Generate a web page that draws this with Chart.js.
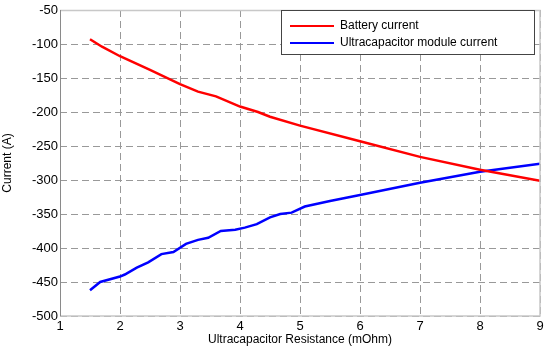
<!DOCTYPE html>
<html>
<head>
<meta charset="utf-8">
<script src="https://cdn.jsdelivr.net/npm/chart.js@4/dist/chart.umd.min.js"></script>
<style>
html,body{margin:0;padding:0;background:#fff;}
#wrap{width:550px;height:351px;position:relative;}
</style>
</head>
<body>
<div id="wrap"><canvas id="c" width="550" height="351"></canvas></div>
<script>
const batteryR = [1.5, 1.7, 2, 2.5, 3, 3.3, 3.6, 4, 4.3, 4.5, 5, 6, 7, 8, 9];
const batteryI = [-93, -104, -118, -138, -159, -170, -177, -192, -200, -207, -220, -243, -266, -285, -301];
const ucR = [1.5, 1.67, 2, 2.08, 2.28, 2.47, 2.69, 2.89, 3.1, 3.3, 3.47, 3.68, 3.92, 4.08, 4.28, 4.5, 4.67, 4.86, 5.08, 5.5, 6, 7, 8, 9];
const ucI = [-462, -450, -442, -439, -429, -421, -409, -406, -394, -388, -385, -375, -373, -370, -365, -355, -350, -348, -339, -331, -322, -304, -288, -276];
const seriesNames = ["Battery current", "Ultracapacitor module current"];
const xTitle = "Ultracapacitor Resistance (mOhm)";
const yTitle = "Current (A)";

const toPts = (xs, ys) => xs.map((x, i) => ({x: x, y: ys[i]}));
const FONT = "'Liberation Sans', Arial, sans-serif";

const framePlugin = {
  id: 'frame',
  afterDraw(chart) {
    const {ctx, chartArea: a} = chart;
    ctx.save();
    ctx.strokeStyle = '#c8c8c8';
    ctx.lineWidth = 1.5;
    ctx.beginPath();
    ctx.moveTo(a.left, a.top + 0.5);
    ctx.lineTo(a.right, a.top + 0.5);
    ctx.lineTo(a.right, a.bottom);
    ctx.lineTo(a.left, a.bottom);
    ctx.stroke();
    ctx.strokeStyle = '#8a8a8a';
    ctx.lineWidth = 1;
    ctx.beginPath();
    ctx.moveTo(a.left + 0.5, a.top);
    ctx.lineTo(a.left + 0.5, a.bottom);
    ctx.stroke();
    // legend box
    const lx = 281, ly = 10, lw = 253, lh = 44;
    ctx.fillStyle = '#fff';
    ctx.fillRect(lx, ly, lw, lh);
    ctx.strokeStyle = '#444';
    ctx.lineWidth = 1;
    ctx.strokeRect(lx + 0.5, ly + 0.5, lw, lh);
    ctx.font = '12px ' + FONT;
    ctx.textBaseline = 'middle';
    chart.data.datasets.forEach((ds, i) => {
      const y = ly + 16 + i * 17;
      ctx.strokeStyle = ds.borderColor;
      ctx.lineWidth = 2;
      ctx.beginPath();
      ctx.moveTo(290, y);
      ctx.lineTo(334, y);
      ctx.stroke();
      ctx.fillStyle = '#000';
      ctx.fillText(ds.label, 340, y);
    });
    ctx.restore();
  }
};

new Chart(document.getElementById('c'), {
  type: 'line',
  data: {
    datasets: [
      {label: seriesNames[0], data: toPts(batteryR, batteryI), borderColor: '#ff0000', borderWidth: 2.5, pointRadius: 0, tension: 0, fill: false},
      {label: seriesNames[1], data: toPts(ucR, ucI), borderColor: '#0000ff', borderWidth: 2.5, pointRadius: 0, tension: 0, fill: false}
    ]
  },
  options: {
    responsive: false,
    animation: false,
    layout: {padding: {top: 10, right: 10, left: 0, bottom: 4}},
    plugins: {legend: {display: false}, tooltip: {enabled: false}},
    scales: {
      x: {
        type: 'linear', min: 1, max: 9,
        ticks: {stepSize: 1, color: '#000', font: {family: FONT, size: 13}, padding: 3, maxRotation: 0},
        grid: {color: '#999', lineWidth: 1, tickLength: 0, drawTicks: false},
        border: {display: false, dash: [7, 4]},
        title: {display: true, text: xTitle, color: '#000', font: {family: FONT, size: 12}, padding: {top: 0, bottom: 0}},
        afterFit(s) { s.height = 31; }
      },
      y: {
        type: 'linear', min: -500, max: -50,
        ticks: {stepSize: 50, color: '#000', font: {family: FONT, size: 13}, padding: 2},
        grid: {color: '#999', lineWidth: 1, drawTicks: false},
        border: {display: false, dash: [7, 4]},
        title: {display: true, text: yTitle, color: '#000', font: {family: FONT, size: 12}, padding: {top: 0, bottom: 4}},
        afterFit(s) { s.width = 60; }
      }
    }
  },
  plugins: [framePlugin]
});
</script>
</body>
</html>
